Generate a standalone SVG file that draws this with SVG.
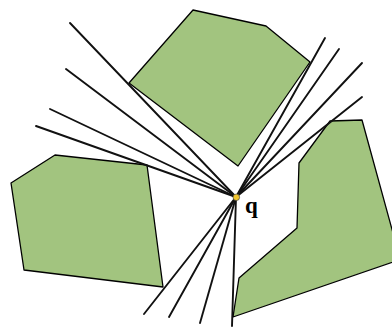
<svg xmlns="http://www.w3.org/2000/svg" width="392" height="327" viewBox="0 0 392 327">
<style>
.obs{fill:#a2c47f;stroke:#000;stroke-width:1.3;stroke-linejoin:round}
.ray{stroke:#111;stroke-width:1.9;fill:none;stroke-linecap:round}
</style>
<rect width="392" height="327" fill="#fff"/>
<g id="obstacle-top"><polygon class="obs" points="193,10 266,26 310,62 238,166 129,83"/></g>
<g id="obstacle-left"><polygon class="obs" points="55,155 147,165 163,287 24,270 11,183"/></g>
<g id="obstacle-right"><polygon class="obs" points="330,121 362,120 396,244 396,261 233,317 239,278 297,228 299,163"/></g>
<g id="connectors">
<line class="ray" x1="236" y1="197" x2="70" y2="23"/>
<line class="ray" x1="236" y1="197" x2="66" y2="69"/>
<line class="ray" x1="236" y1="197" x2="50" y2="109"/>
<line class="ray" x1="236" y1="197" x2="36" y2="126"/>
<line class="ray" x1="236" y1="197" x2="325" y2="38"/>
<line class="ray" x1="236" y1="197" x2="339" y2="49"/>
<line class="ray" x1="236" y1="197" x2="362" y2="63"/>
<line class="ray" x1="236" y1="197" x2="362" y2="97"/>
<line class="ray" x1="236" y1="197" x2="144" y2="314"/>
<line class="ray" x1="236" y1="197" x2="169" y2="317"/>
<line class="ray" x1="236" y1="197" x2="200" y2="323"/>
<line class="ray" x1="236" y1="197" x2="232" y2="326"/>
</g>
<g id="q">
<circle cx="236.3" cy="197.3" r="3.3" fill="#f2c62e" stroke="#444" stroke-width="0.7"/>
<text x="245" y="213" font-family="Liberation Serif, serif" font-weight="bold" font-size="23">q</text>
</g>
</svg>
